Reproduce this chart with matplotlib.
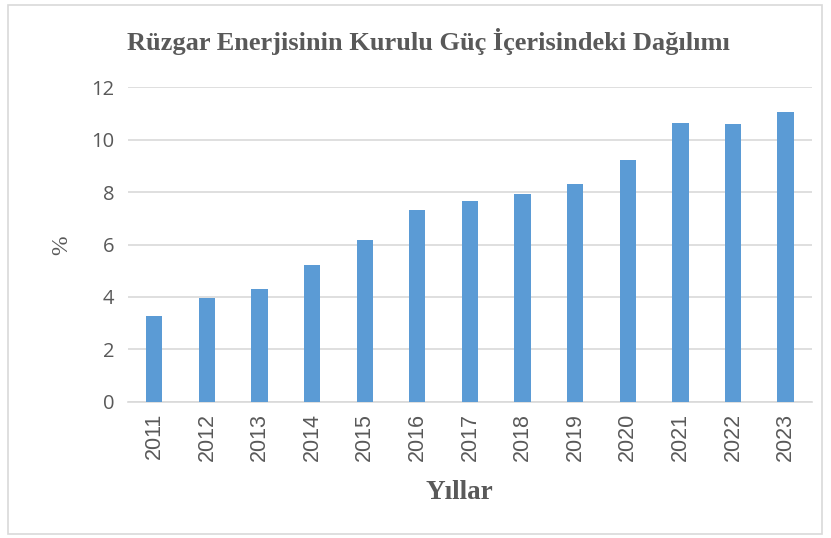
import matplotlib.pyplot as plt
import numpy as np
from matplotlib.patches import Rectangle

years = ['2011', '2012', '2013', '2014', '2015', '2016', '2017',
         '2018', '2019', '2020', '2021', '2022', '2023']
shares = [3.27, 3.96, 4.31, 5.22, 6.16, 7.33, 7.65, 7.92, 8.32, 9.23, 10.64, 10.60, 11.07]

title = 'Rüzgar Enerjisinin Kurulu Güç İçerisindeki Dağılımı'
xlabel = 'Yıllar'
ylabel = '%'

text_color = '#595959'
bar_color = '#5b9bd5'

fig = plt.figure(figsize=(8.31, 5.38), dpi=100)
ax = fig.add_axes([0.154, 0.253, 0.823, 0.585])

x = np.arange(len(years))
ax.bar(x, shares, width=0.31, color=bar_color, zorder=3)

ax.set_xlim(-0.5, len(years) - 0.5)
ax.set_ylim(0, 12)
ax.set_yticks(range(0, 13, 2))
ax.set_xticks(x)
ax.set_xticklabels(years, rotation=90, family='Liberation Sans', fontsize=15.5, color=text_color)
for lab in ax.get_yticklabels():
    lab.set_family('Open Sans')
    lab.set_fontsize(14.5)
    lab.set_color(text_color)

ax.yaxis.grid(True, color='#d9d9d9', linewidth=1.2, zorder=0)
ax.tick_params(axis='x', length=0, pad=8)
ax.tick_params(axis='y', length=0, pad=10)
for side in ['top', 'right', 'left']:
    ax.spines[side].set_visible(False)
ax.spines['bottom'].set_color('#d9d9d9')
ax.spines['bottom'].set_linewidth(1.2)

fig.text(0.516, 0.922, title, ha='center', va='center', family='Liberation Serif',
         fontweight='bold', fontsize=19, color=text_color)
fig.text(0.553, 0.085, xlabel, ha='center', va='center', family='Liberation Serif',
         fontweight='bold', fontsize=19.5, color=text_color)
fig.text(0.074, 0.545, ylabel, ha='center', va='center', rotation=90,
         family='Liberation Serif', fontsize=17, color=text_color)

fig.patches.append(Rectangle((0.01, 0.007), 0.979, 0.984, transform=fig.transFigure,
                             fill=False, edgecolor='#d9d9d9', linewidth=1.2))

fig.savefig('out.png', dpi=100)
